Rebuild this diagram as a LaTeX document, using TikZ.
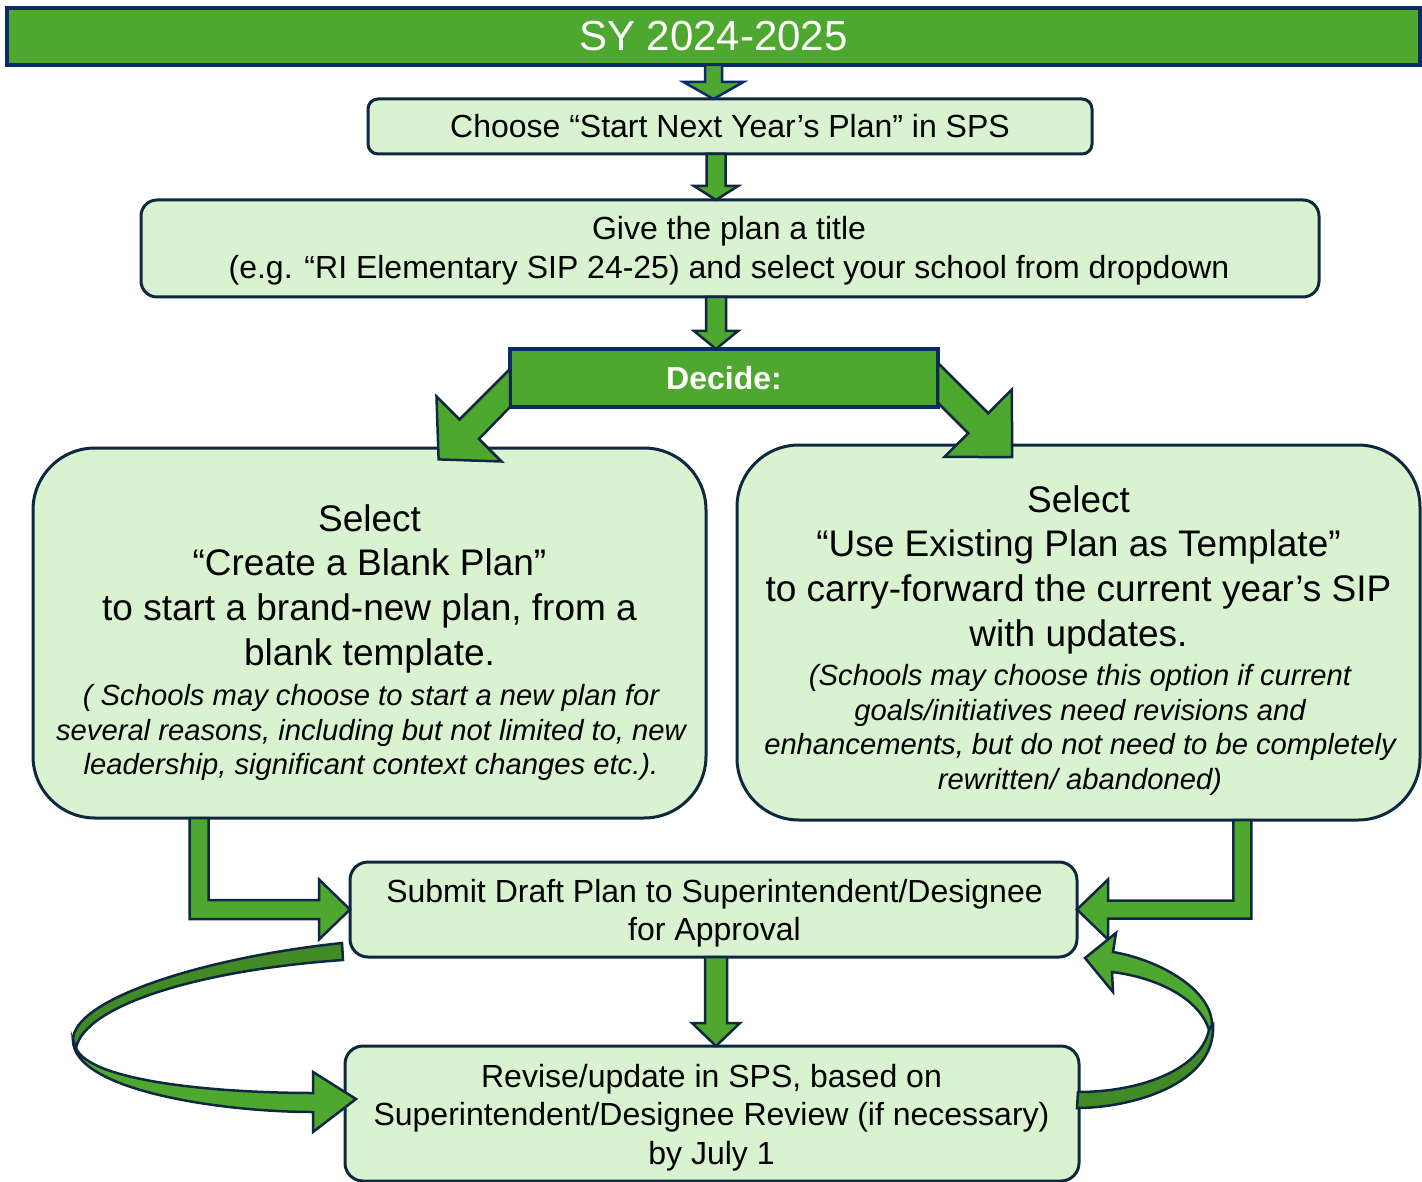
\documentclass[tikz,border=0pt]{standalone}
\usepackage{fontspec}
\setmainfont{Liberation Sans}
\usetikzlibrary{calc}

\definecolor{leafgreen}{HTML}{4EA72E}
\definecolor{shadegreen}{HTML}{418A25}
\definecolor{palegreen}{HTML}{D9F2D0}
\definecolor{inkblue}{HTML}{0E2841}
\definecolor{barblue}{HTML}{0A2A6A}

\tikzset{
  stepbox/.style={draw=inkblue, fill=palegreen, line width=3pt, inner sep=0pt, outer sep=0pt},
  greenbar/.style={draw=barblue, fill=leafgreen, line width=3.5pt, inner sep=0pt, outer sep=0pt, text=white},
  fatarrow/.style={draw=inkblue, fill=leafgreen, line width=2.5pt, line join=miter},
  boxtext/.style={align=center, inner sep=0pt, anchor=north, font=\fontsize{32}{38.6}\selectfont},
  bigtext/.style={align=center, inner sep=0pt, anchor=north, font=\fontsize{37}{44.8}\selectfont},
  notetext/.style={align=center, inner sep=0pt, anchor=north, font=\fontsize{29.2}{34.7}\selectfont\itshape},
}

% block arrow pointing down: [style]{from}{to}{shaft half width}{head half width}{head length}
\newcommand{\downblock}[6][]{%
  \draw[fatarrow,#1] let \p1=(#2), \p2=(#3) in
    (\x1-#4pt,\y1) -- (\x1-#4pt,\y2+#6pt) -- (\x1-#5pt,\y2+#6pt) -- (\x1,\y2)
    -- (\x1+#5pt,\y2+#6pt) -- (\x1+#4pt,\y2+#6pt) -- (\x1+#4pt,\y1) -- cycle;}

\begin{document}
\begin{tikzpicture}[x=1pt, y=-1pt]
\useasboundingbox (0,0) rectangle (1422,1182);
\coordinate (axis) at (716,0);

% header and steps
\node[greenbar, minimum width=1413pt, minimum height=57pt, font=\fontsize{42}{50}\selectfont] (sy) at (713.5,36.5) {SY 2024-2025};
\node[stepbox, rounded corners=10pt, minimum width=724pt, minimum height=55pt, font=\fontsize{32}{38}\selectfont] (choose) at (730,126.5) {Choose “Start Next Year’s Plan” in SPS};
\node[stepbox, rounded corners=16pt, minimum width=1178pt, minimum height=97pt] (give) at (730,248.5) {};
\node[boxtext] (givetxt) at (729,216.3) {Give the plan a title\\(e.g. “RI Elementary SIP 24-25) and select your school from dropdown};
\node[greenbar, minimum width=428pt, minimum height=58pt, font=\bfseries\fontsize{32}{38}\selectfont] (decide) at (724,378) {Decide:};

% the two choices
\node[stepbox, rounded corners=62pt, minimum width=673pt, minimum height=370pt] (blank) at (369.5,633) {};
\node[bigtext] (blanktxt) at (369.5,504) {Select\\“Create a Blank Plan”\\to start a brand-new plan, from a\\blank template.};
\node[notetext] (blanknote) at (371,684) {( Schools may choose to start a new plan for\\several reasons, including but not limited to, new\\leadership, significant context changes etc.).};
\node[stepbox, rounded corners=62pt, minimum width=683pt, minimum height=375pt] (template) at (1078.5,632.5) {};
\node[bigtext] (templatetxt) at (1078.5,485) {Select\\“Use Existing Plan as Template”\\to carry-forward the current year’s SIP\\with updates.};
\node[notetext] (templatenote) at (1080,664) {(Schools may choose this option if current\\goals/initiatives need revisions and\\enhancements, but do not need to be completely\\rewritten/ abandoned)};

% approval loop
\node[stepbox, rounded corners=18pt, minimum width=727pt, minimum height=95pt] (submit) at (713.5,909.5) {};
\node[boxtext] (submittxt) at (714.5,878.7) {Submit Draft Plan to Superintendent/Designee\\for Approval};
\node[stepbox, rounded corners=18pt, minimum width=734pt, minimum height=135pt] (revise) at (712,1113.5) {};
\node[boxtext] (revisetxt) at (711.5,1063.7) {Revise/update in SPS, based on\\Superintendent/Designee Review (if necessary)\\by July 1};

% straight arrows
\downblock[draw=barblue]{sy.south}{choose.north}{8.5}{30}{17}
\downblock{choose.south -| axis}{give.north}{9.5}{22}{14}
\downblock{give.south -| axis}{decide.north}{10}{22}{18}
\downblock{submit.south -| axis}{revise.north}{11}{24}{23}

% diagonal arrows out of Decide
\draw[fatarrow] ($(decide.south west)+(0,-38)$) -- ++(-50.5,50.5) -- ++(-23,-23) -- ++(2.1,62.9)
  -- ++(62.9,2.1) -- ++(-22.5,-22.5) -- (decide.south west) -- cycle;
\draw[fatarrow] ($(decide.south east)+(0,-44)$) -- ++(50.25,50.25) -- ++(23.55,-23.65) -- ++(0.4,67.6)
  -- ++(-67.6,-0.4) -- ++(23.65,-23.55) -- ++(-30.25,-30.25) -- cycle;

% elbow arrows into Submit
\draw[fatarrow] let \p1=($(blank.south west)!0.247!(blank.south east)$), \p2=(submit.west) in
  (\x1-9.5pt,\y1) -- (\x1-9.5pt,\y2-9.5pt) -- (\x2-31pt,\y2-9.5pt) -- (\x2-31pt,\y2-30pt) -- (\x2,\y2)
  -- (\x2-31pt,\y2+30pt) -- (\x2-31pt,\y2+9.5pt) -- (\x1+9.5pt,\y2+9.5pt) -- (\x1+9.5pt,\y1) -- cycle;
\draw[fatarrow] let \p1=($(template.south west)!0.74!(template.south east)$), \p2=(submit.east) in
  (\x1+9pt,\y1) -- (\x1+9pt,\y2-9pt) -- (\x2+31pt,\y2-9pt) -- (\x2+31pt,\y2-30pt) -- (\x2,\y2)
  -- (\x2+31pt,\y2+30pt) -- (\x2+31pt,\y2+9pt) -- (\x1-9pt,\y2+9pt) -- (\x1-9pt,\y1) -- cycle;

% curved arrows between Submit and Revise
\draw[fatarrow, fill=shadegreen] (342,943) .. controls (200,958) and (73,1000) .. (73,1040)
  -- (76,1048) .. controls (85,1005) and (200,970) .. (343,960) -- cycle;
\draw[fatarrow] (73,1040) .. controls (73,1090) and (220,1112) .. (313,1112) -- (313,1132)
  -- (356,1099) -- (313,1072) -- (313,1093) .. controls (220,1093) and (90,1082) .. (76,1048) -- cycle;
\draw[fatarrow, fill=shadegreen] (1213,1025) .. controls (1216,1085) and (1130,1108) .. (1077,1108)
  -- (1078,1092) .. controls (1140,1092) and (1200,1070) .. (1209,1030) -- cycle;
\draw[fatarrow] (1212,1025) .. controls (1212,990) and (1160,960) .. (1113,952) -- (1116,933)
  -- (1085,958) -- (1113,992) -- (1112,972) .. controls (1160,978) and (1200,1000) .. (1209,1030) -- cycle;
\end{tikzpicture}
\end{document}
